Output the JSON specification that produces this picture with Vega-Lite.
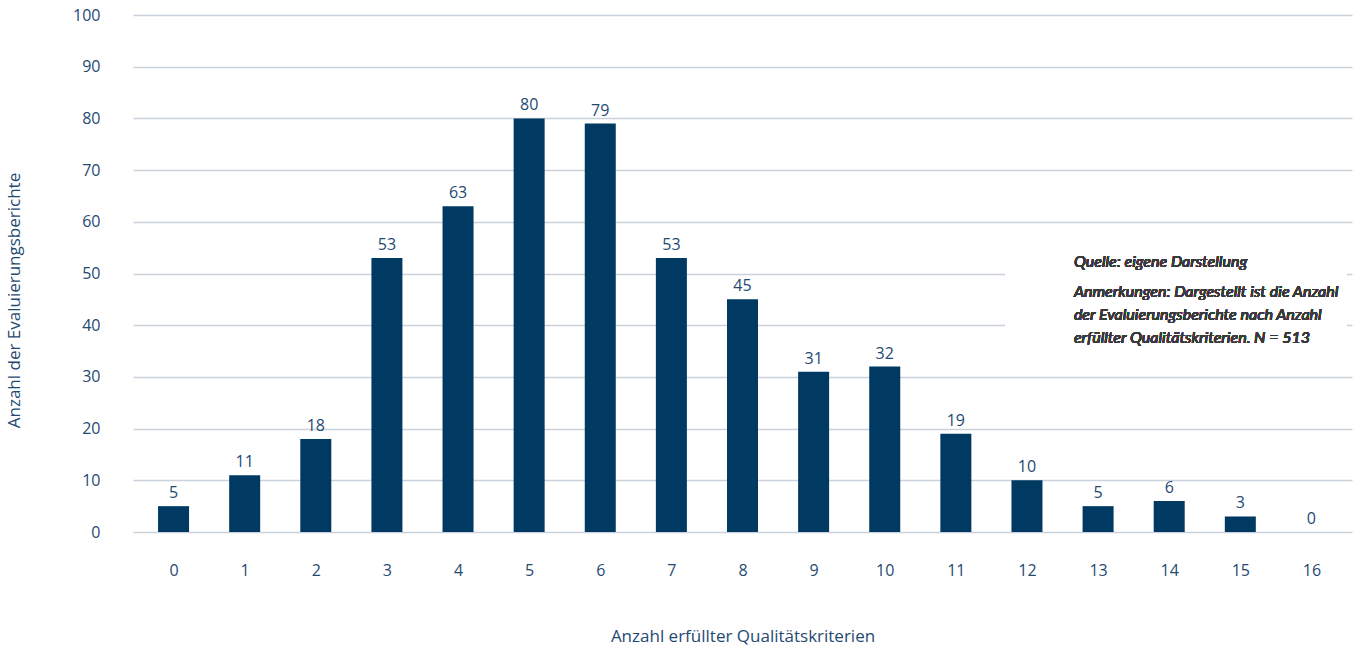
{
  "$schema": "https://vega.github.io/schema/vega-lite/v6.json",
  "width": 1219,
  "height": 517,
  "autosize": {"type": "none"},
  "padding": {"left": 133, "top": 15, "right": 15, "bottom": 116},
  "background": "white",
  "config": {
    "font": "Open Sans",
    "view": {"stroke": null}
  },
  "data": {
    "values": [
      {"kriterien": 0, "berichte": 5},
      {"kriterien": 1, "berichte": 11},
      {"kriterien": 2, "berichte": 18},
      {"kriterien": 3, "berichte": 53},
      {"kriterien": 4, "berichte": 63},
      {"kriterien": 5, "berichte": 80},
      {"kriterien": 6, "berichte": 79},
      {"kriterien": 7, "berichte": 53},
      {"kriterien": 8, "berichte": 45},
      {"kriterien": 9, "berichte": 31},
      {"kriterien": 10, "berichte": 32},
      {"kriterien": 11, "berichte": 19},
      {"kriterien": 12, "berichte": 10},
      {"kriterien": 13, "berichte": 5},
      {"kriterien": 14, "berichte": 6},
      {"kriterien": 15, "berichte": 3},
      {"kriterien": 16, "berichte": 0}
    ]
  },
  "encoding": {
    "x": {
      "field": "kriterien",
      "type": "quantitative",
      "scale": {"domain": [-0.5, 16.5], "nice": false, "zero": false},
      "axis": {
        "title": "Anzahl erfüllter Qualitätskriterien",
        "values": [0,1,2,3,4,5,6,7,8,9,10,11,12,13,14,15,16],
        "grid": false,
        "domain": false,
        "ticks": false,
        "labelPadding": 30,
        "labelFontSize": 16,
        "labelColor": "#1f4a72",
        "titleFontSize": 17,
        "titleFontWeight": "normal",
        "titleColor": "#1f4a72",
        "titlePadding": 50
      }
    },
    "y": {
      "field": "berichte",
      "type": "quantitative",
      "scale": {"domain": [0, 100], "nice": false},
      "axis": {
        "title": "Anzahl der Evaluierungsberichte",
        "values": [0,10,20,30,40,50,60,70,80,90,100],
        "domain": false,
        "ticks": false,
        "gridColor": "#c9d1dc",
        "gridWidth": 1.5,
        "labelPadding": 33,
        "labelFontSize": 16,
        "labelColor": "#1f4a72",
        "titleFontSize": 17,
        "titleFontWeight": "normal",
        "titleColor": "#1f4a72",
        "titleX": -110,
        "titleY": 285
      }
    }
  },
  "layer": [
    {
      "mark": {"type": "rect", "color": "white"},
      "encoding": {
        "x": {"datum": 11.7},
        "x2": {"datum": 16.5},
        "y": {"datum": 34},
        "y2": {"datum": 57}
      }
    },
    {
      "mark": {"type": "bar", "width": 31, "color": "#003a63"}
    },
    {
      "mark": {"type": "text", "baseline": "bottom", "dy": -5, "fontSize": 16, "color": "#1f4a72"},
      "encoding": {"text": {"field": "berichte", "type": "quantitative"}}
    },
    {
      "mark": {"type": "text", "align": "left", "baseline": "middle", "font": "Lato", "fontSize": 16, "fontStyle": "italic", "fontWeight": "normal", "color": "#3a3a3a"},
      "encoding": {
        "x": {"datum": 12.66},
        "y": {"datum": 52.2},
        "text": {"value": "Quelle: eigene Darstellung"}
      }
    },
    {
      "mark": {"type": "text", "align": "left", "baseline": "middle", "font": "Lato", "fontSize": 16, "fontStyle": "italic", "fontWeight": "normal", "color": "#3a3a3a", "lineHeight": 23},
      "encoding": {
        "x": {"datum": 12.66},
        "y": {"datum": 46.4},
        "text": {"value": ["Anmerkungen: Dargestellt ist die Anzahl", "der Evaluierungsberichte nach Anzahl", "erfüllter Qualitätskriterien. N = 513"]}
      }
    }
  ]
}
